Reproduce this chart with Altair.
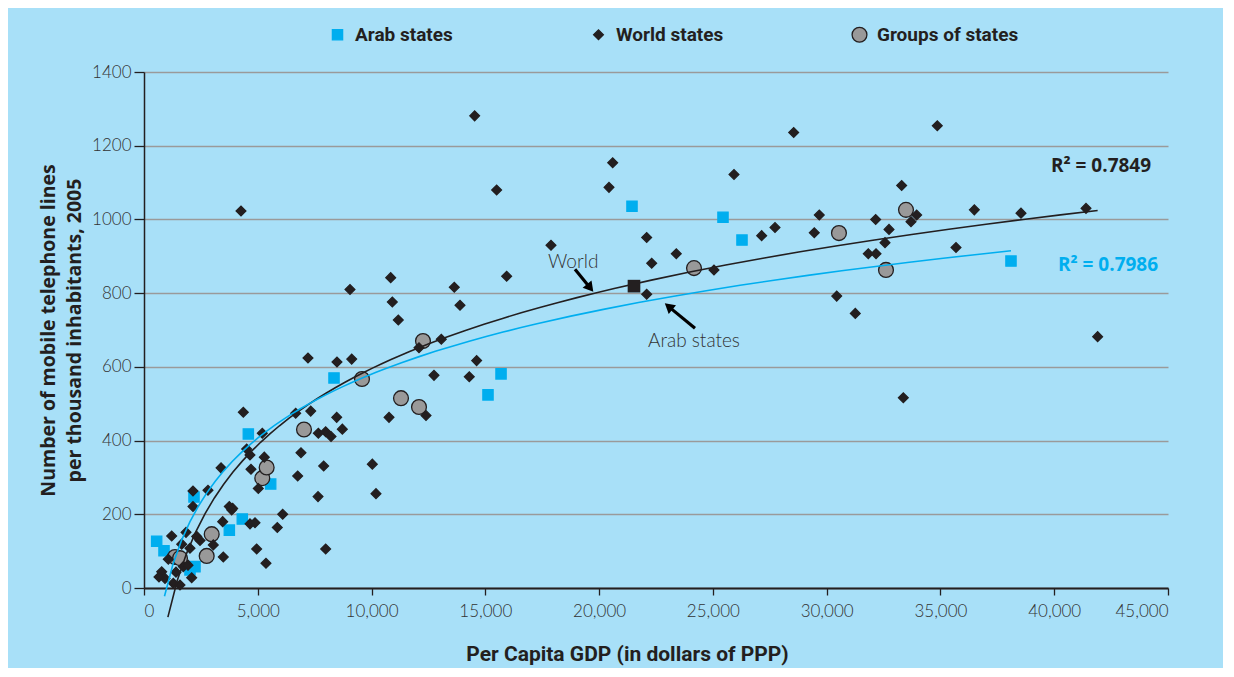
import altair as alt
import pandas as pd

# ---------------- data ----------------
cats = ["Arab states", "World states", "Groups of states"]

world_gdp = [2153, 2812, 3384, 2153, 3749, 3852, 3458, 1217, 1846, 2316, 2461, 1657, 2021, 3045,
             3485, 1068, 778, 923, 1288, 1582, 2096, 1727, 659, 1406, 1934,
             4263, 4365, 6666, 7326, 8468, 10767, 8716, 5199, 7662, 7984, 8219, 4512, 4658, 5287,
             6899, 4702, 5023, 6754, 7896, 10034, 7647, 10195, 3897, 6095, 4658, 4878, 5858, 4951,
             7984, 5361, 12393, 12744, 14295, 14617, 9127, 8481, 7207, 12085, 13065, 11176, 10913,
             13887, 13636, 10841, 15937, 9053, 17886, 14530, 15497, 20434, 20597,
             28551, 34862, 25928, 33296, 36489, 29676, 22091, 23392, 22311, 27144, 27730, 29456,
             32154, 32740, 32564, 33955, 33706, 31829, 32169, 35684, 25048, 22091, 30441, 31258,
             33369, 41396, 38540, 41908]
world_mob = [263, 265, 326, 221, 221, 212, 180, 141, 151, 140, 129, 119, 108, 117,
             84, 78, 44, 26, 13, 8, 28, 58, 30, 43, 62,
             1023, 477, 474, 480, 463, 463, 431, 420, 420, 424, 411, 377, 361, 355,
             367, 322, 270, 304, 331, 336, 248, 256, 216, 200, 174, 177, 164, 106,
             106, 67, 468, 577, 573, 617, 621, 613, 624, 652, 675, 727, 776,
             767, 816, 842, 846, 810, 930, 1281, 1080, 1087, 1154,
             1236, 1254, 1122, 1092, 1026, 1012, 951, 907, 881, 956, 978, 964,
             1000, 973, 937, 1012, 994, 907, 907, 924, 863, 797, 792, 745,
             516, 1030, 1017, 682]

arab_gdp = [557, 879, 2197, 2241, 2021, 3750, 4320, 4585, 5567, 8350, 15117, 15690,
            21445, 25444, 26279, 38100]
arab_mob = [127, 101, 247, 58, 49, 157, 187, 418, 282, 570, 524, 581,
            1036, 1006, 944, 887]

group_gdp = [1362, 1582, 2755, 2975, 5198, 5390, 7031, 9580, 12260, 11294, 12085,
             24170, 30540, 32607, 33486]
group_mob = [84, 81, 87, 146, 298, 327, 430, 567, 670, 515, 491,
             868, 963, 863, 1026]

world_avg_gdp = [21533]
world_avg_mob = [819]

world_fit_extent = [1050, 41908]
arab_fit_extent = [900, 38100]

x_ticks = list(range(0, 45001, 5000))
y_ticks = list(range(0, 1401, 200))

label_text = ["World", "Arab states"]
label_x = [18860, 24170]
label_y = [885, 671]

arrow_x = [18940, 24214]
arrow_y = [865, 705]
arrow_x2 = [19556, 23124]
arrow_y2 = [818, 760]
head_x = [19608, 23053]
head_y = [814, 764]
head_angle = [141, 310]

r2_text = ["R² = 0.7849", "R² = 0.7986"]
r2_x = [42055, 42363]
r2_y = [1145, 876]
r2_color = ["#231F20", "#00AEEF"]

# ---------------- styling ----------------
BG = "#A8E0F8"
BLUE = "#00AEEF"
DARK = "#231F20"
GREY = "#999999"

rows = (
    [{"gdp": g, "mobile": m, "group": "Arab states"} for g, m in zip(arab_gdp, arab_mob)]
    + [{"gdp": g, "mobile": m, "group": "Groups of states"} for g, m in zip(group_gdp, group_mob)]
    + [{"gdp": g, "mobile": m, "group": "World states"} for g, m in zip(world_gdp, world_mob)]
)
df = pd.DataFrame(rows)

xscale = alt.Scale(domain=[0, 45000], nice=False)
yscale = alt.Scale(domain=[0, 1400], nice=False)

x_axis = alt.Axis(values=x_ticks, format=",d", grid=False,
                  labelFont="Lato", labelFontWeight=300, labelFontSize=17, labelColor="#333333",
                  labelPadding=8, domainColor=DARK, domainWidth=2, tickColor=DARK,
                  tickSize=7, tickWidth=1.3,
                  titleFont="Roboto", titleFontSize=21, titleFontWeight="bold",
                  titleColor=DARK, titleX=483, titleY=66, titleBaseline="middle")
y_axis = alt.Axis(values=y_ticks, format="d", grid=True, gridColor="#9a9a9a", gridWidth=1.3,
                  labelFont="Lato", labelFontWeight=300, labelFontSize=17, labelColor="#333333",
                  labelPadding=3, domainColor=DARK, domainWidth=1.5, tickColor=DARK,
                  tickSize=10, tickWidth=1.3,
                  titleFont="Open Sans", titleFontSize=19.5, titleFontWeight="bold",
                  titleColor=DARK, titlePadding=7, titleLineHeight=26)

points = alt.Chart(df).mark_point(filled=True, opacity=1, strokeWidth=1.3).encode(
    x=alt.X("gdp:Q", scale=xscale, axis=x_axis, title="Per Capita GDP (in dollars of PPP)"),
    y=alt.Y("mobile:Q", scale=yscale, axis=y_axis,
            title=["Number of mobile telephone lines", "per thousand inhabitants, 2005"]),
    shape=alt.Shape("group:N", scale=alt.Scale(domain=cats, range=["square", "diamond", "circle"]),
                    title=None,
                    legend=alt.Legend(orient="none", legendX=184, legendY=-47, direction="horizontal",
                                      columns=3, gridAlign="all", columnPadding=91,
                                      labelFont="Roboto", labelFontSize=19,
                                      labelFontWeight="bold", labelColor=DARK, labelOffset=8,
                                      symbolStrokeWidth=1.3)),
    fill=alt.Fill("group:N", scale=alt.Scale(domain=cats, range=[BLUE, DARK, GREY]), title=None),
    stroke=alt.Stroke("group:N", scale=alt.Scale(domain=cats, range=[BLUE, DARK, DARK]), title=None),
    size=alt.Size("group:N", scale=alt.Scale(type="ordinal", domain=cats, range=[105, 95, 220]),
                  title=None),
)

world_fit = alt.Chart(df).transform_filter(alt.datum.group == "World states").transform_regression(
    "gdp", "mobile", method="log", extent=world_fit_extent
).mark_line(color=DARK, strokeWidth=1.6).encode(
    x=alt.X("gdp:Q", scale=xscale), y=alt.Y("mobile:Q", scale=yscale))

arab_fit = alt.Chart(df).transform_filter(alt.datum.group == "Arab states").transform_regression(
    "gdp", "mobile", method="log", extent=arab_fit_extent
).mark_line(color=BLUE, strokeWidth=1.6).encode(
    x=alt.X("gdp:Q", scale=xscale), y=alt.Y("mobile:Q", scale=yscale))

avg_df = pd.DataFrame({"gdp": world_avg_gdp, "mobile": world_avg_mob})
avg = alt.Chart(avg_df).mark_square(size=160, color=DARK, opacity=1).encode(
    x=alt.X("gdp:Q", scale=xscale), y=alt.Y("mobile:Q", scale=yscale))

arr_df = pd.DataFrame({"x": arrow_x, "y": arrow_y, "x2": arrow_x2, "y2": arrow_y2,
                       "hx": head_x, "hy": head_y, "ang": head_angle})
arrows = alt.Chart(arr_df).mark_rule(color="black", strokeWidth=3.2).encode(
    x=alt.X("x:Q", scale=xscale), y=alt.Y("y:Q", scale=yscale), x2="x2:Q", y2="y2:Q")
heads = alt.Chart(arr_df).mark_point(shape="triangle-up", filled=True, color="black",
                                      opacity=1, size=130).encode(
    x=alt.X("hx:Q", scale=xscale), y=alt.Y("hy:Q", scale=yscale),
    angle=alt.Angle("ang:Q", scale=None))

lab_df = pd.DataFrame({"x": label_x, "y": label_y, "t": label_text})
labels = alt.Chart(lab_df).mark_text(font="Lato", fontWeight=300, fontSize=19,
                                     color="#333333", align="center", baseline="middle").encode(
    x=alt.X("x:Q", scale=xscale), y=alt.Y("y:Q", scale=yscale), text="t:N")

r2_df = pd.DataFrame({"x": r2_x, "y": r2_y, "t": r2_text, "c": r2_color})
r2 = alt.Chart(r2_df).mark_text(font="Open Sans", fontWeight="bold", fontSize=19,
                                align="center", baseline="middle").encode(
    x=alt.X("x:Q", scale=xscale), y=alt.Y("y:Q", scale=yscale), text="t:N",
    color=alt.Color("c:N", scale=None))

chart = alt.layer(points, world_fit, arab_fit, avg, arrows, heads, labels, r2).properties(
    width=1024, height=516,
    background=BG,
    autosize=alt.AutoSizeParams(type="none"),
    padding={"left": 136, "top": 64, "right": 55, "bottom": 80},
).configure_view(strokeWidth=0)

chart.save("out.html", embed_options={"renderer": "svg", "actions": False})
